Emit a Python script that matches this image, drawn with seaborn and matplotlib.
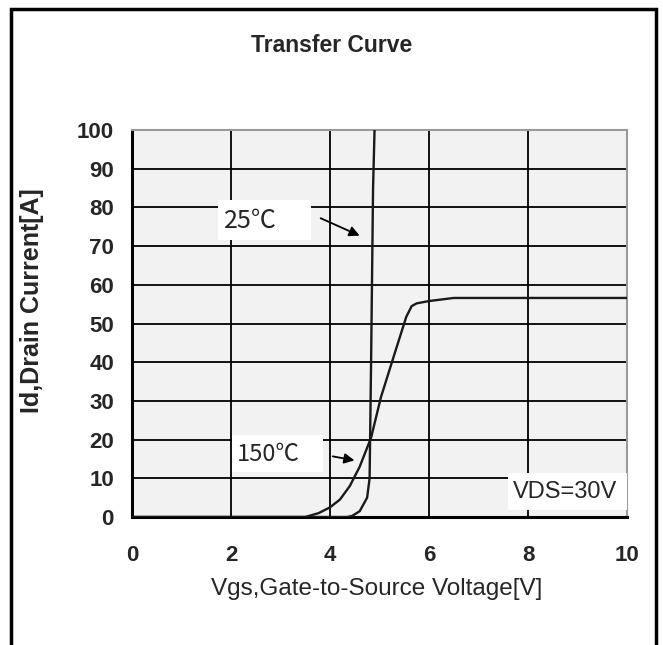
import matplotlib
matplotlib.use("Agg")
import matplotlib.pyplot as plt
from matplotlib.patches import Rectangle
import seaborn as sns
import pandas as pd

# ---- data ----
vgs_25 = [0.0, 4.35, 4.45, 4.60, 4.75, 4.80, 4.83, 4.87, 4.90]
id_25 = [0.0, 0.0, 0.3, 1.5, 5.0, 10.0, 40.0, 85.0, 100.0]

vgs_150 = [0.0, 3.5, 3.77, 4.0, 4.2, 4.4, 4.6, 4.83, 5.03, 5.3, 5.54, 5.65, 5.75, 6.0, 6.5, 10.0]
id_150 = [0.0, 0.0, 1.0, 2.5, 4.5, 8.0, 13.0, 20.5, 31.0, 42.0, 51.7, 54.5, 55.2, 55.8, 56.6, 56.6]

x_ticks = [0, 2, 4, 6, 8, 10]
y_ticks = [0, 10, 20, 30, 40, 50, 60, 70, 80, 90, 100]

title_text = "Transfer Curve"
x_label = "Vgs,Gate-to-Source Voltage[V]"
y_label = "Id,Drain Current[A]"
label_25 = "25℃"
label_150 = "150℃"
cond_text = "VDS=30V"

df = pd.concat([
    pd.DataFrame({"Vgs": vgs_25, "Id": id_25, "T": label_25}),
    pd.DataFrame({"Vgs": vgs_150, "Id": id_150, "T": label_150}),
], ignore_index=True)

sns.set_theme(style="white")
FAM = ["Liberation Sans Narrow", "Liberation Sans", "Noto Sans CJK SC", "DejaVu Sans"]
plt.rcParams["font.family"] = FAM

fig = plt.figure(figsize=(6.63, 6.45), dpi=100)
ax = fig.add_axes([132 / 663, 1 - 517 / 645, (627 - 132) / 663, (517 - 130) / 645])
ax.set_facecolor("#f2f2f2")

sns.lineplot(data=df, x="Vgs", y="Id", hue="T", units="T", estimator=None,
             sort=False, palette=["#1a1a1a", "#1a1a1a"], linewidth=1.7,
             legend=False, ax=ax, zorder=5)

ax.set_xlim(0, 10)
ax.set_ylim(0, 100)
ax.set_xticks(x_ticks)
ax.set_yticks(y_ticks)
ax.set_xticklabels([str(v) for v in x_ticks], fontsize=16, fontweight="bold")
ax.set_yticklabels([str(v) for v in y_ticks], fontsize=16, fontweight="bold")
ax.tick_params(axis="both", length=3, width=1, color="black")
ax.tick_params(axis="y", pad=10)
ax.tick_params(axis="x", pad=17)

ax.grid(True, color="black", linewidth=1.3)
ax.set_axisbelow(True)
for side in ["left", "bottom"]:
    ax.spines[side].set_color("black")
    ax.spines[side].set_linewidth(2.2)
for side in ["top", "right"]:
    ax.spines[side].set_color("#9a9a9a")
    ax.spines[side].set_linewidth(1.5)

ax.set_xlabel(x_label, fontsize=17.5)
ax.xaxis.set_label_coords(0.495, -0.157)
ax.set_ylabel(y_label, fontsize=18, fontweight="bold")
ax.yaxis.set_label_coords(-0.177, 0.56)
fig.text(0.5, 1 - 45 / 645, title_text, ha="center", va="center",
         fontsize=16.5, fontweight="bold", family=FAM)

# annotation boxes
ax.add_patch(Rectangle((1.74, 71.6), 1.88, 10.4, facecolor="white", edgecolor="none", zorder=3))
ax.text(1.85, 76.5, label_25, fontsize=18, va="center", ha="left", zorder=6,
        family=["Liberation Sans Narrow", "Noto Sans CJK SC"])
ax.annotate("", xy=(4.65, 72.4), xytext=(3.76, 77.5),
            arrowprops=dict(arrowstyle="-|>", color="black", lw=1.3, mutation_scale=15), zorder=6)

ax.add_patch(Rectangle((2.02, 11.6), 1.84, 9.6, facecolor="white", edgecolor="none", zorder=3))
ax.text(2.12, 16.2, label_150, fontsize=17, va="center", ha="left", zorder=6,
        family=["Liberation Sans Narrow", "Noto Sans CJK SC"])
ax.annotate("", xy=(4.55, 14.5), xytext=(4.0, 15.8),
            arrowprops=dict(arrowstyle="-|>", color="black", lw=1.3, mutation_scale=15), zorder=6)

ax.add_patch(Rectangle((7.6, 1.8), 2.4, 9.6, facecolor="white", edgecolor="none", zorder=3))
ax.text(9.8, 6.5, cond_text, fontsize=17, va="center", ha="right", zorder=6)

# outer frame
fig.add_artist(Rectangle((11 / 663, -0.05), (656 - 11) / 663, 0.05 + 1 - 9 / 645,
                         transform=fig.transFigure, fill=False, edgecolor="black", linewidth=2.5))

fig.savefig("out.png", dpi=100)
